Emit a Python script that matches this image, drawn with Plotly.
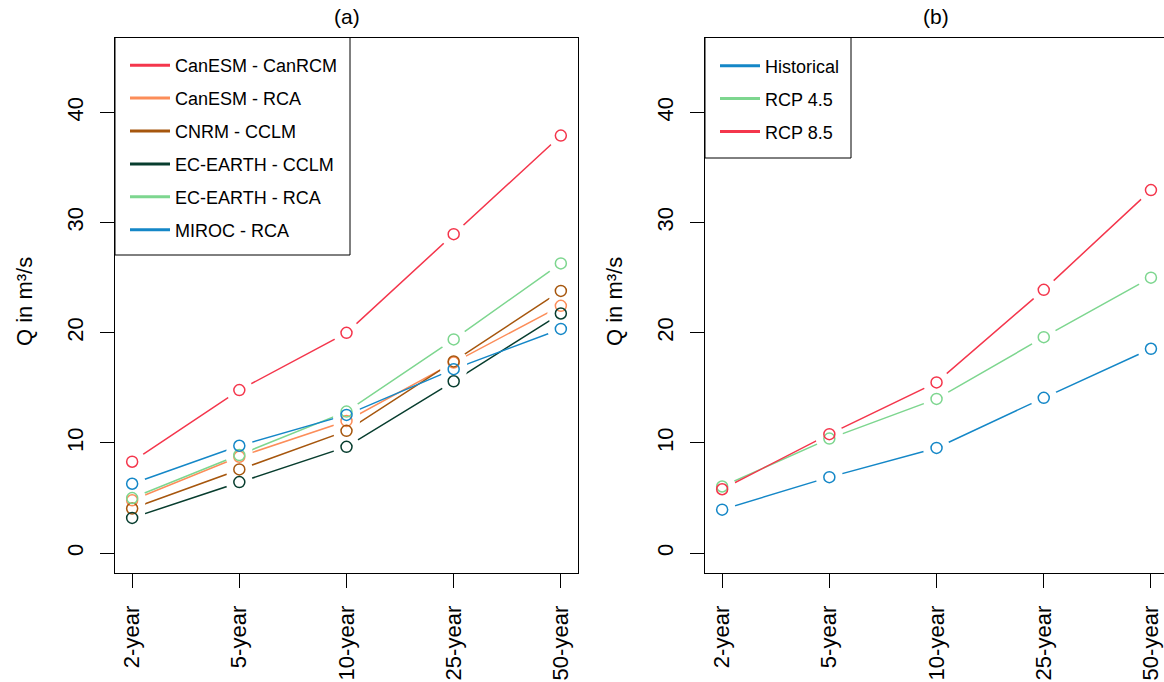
import plotly.graph_objects as go

# ---------------- data ----------------
periods = ["2-year", "5-year", "10-year", "25-year", "50-year"]

models_a = ["CanESM - CanRCM", "CanESM - RCA", "CNRM - CCLM",
            "EC-EARTH - CCLM", "EC-EARTH - RCA", "MIROC - RCA"]
canesm_canrcm = [8.3, 14.8, 20.0, 28.95, 37.9]
canesm_rca = [4.8, 8.75, 12.0, 17.3, 22.45]
cnrm_cclm = [4.05, 7.6, 11.1, 17.4, 23.8]
ecearth_cclm = [3.2, 6.45, 9.65, 15.6, 21.75]
ecearth_rca = [5.0, 8.9, 12.85, 19.4, 26.3]
miroc_rca = [6.3, 9.75, 12.55, 16.7, 20.35]
values_a = [canesm_canrcm, canesm_rca, cnrm_cclm, ecearth_cclm, ecearth_rca, miroc_rca]
colors_a = ["#F4364C", "#FC8D59", "#A6560D", "#073D2E", "#7DD68F", "#1487C7"]

scen_b = ["Historical", "RCP 4.5", "RCP 8.5"]
historical = [3.95, 6.9, 9.55, 14.1, 18.55]
rcp45 = [6.05, 10.4, 14.0, 19.6, 25.0]
rcp85 = [5.8, 10.8, 15.5, 23.9, 32.95]
values_b = [historical, rcp45, rcp85]
colors_b = ["#1487C7", "#7DD68F", "#F4364C"]

yticks = [0, 10, 20, 30, 40]

# ---------------- figure ----------------
W, H = 1164, 682
FONT = "Liberation Sans, Arial, sans-serif"
xpos = list(range(1, len(periods) + 1))

fig = go.Figure()


def add_panel(names, values, colors, xa, ya, legend):
    # lines
    for n, v, c in zip(names, values, colors):
        fig.add_trace(go.Scatter(x=xpos, y=v, mode="lines", xaxis=xa, yaxis=ya,
                                 line=dict(color=c, width=1.5), showlegend=False,
                                 hoverinfo="skip"))
    # white gaps around points (R type="b")
    for n, v, c in zip(names, values, colors):
        fig.add_trace(go.Scatter(x=xpos, y=v, mode="markers", xaxis=xa, yaxis=ya,
                                 marker=dict(symbol="circle", color="#FFFFFF", size=27,
                                             opacity=1,
                                             line=dict(width=0, color="#FFFFFF")),
                                 showlegend=False, hoverinfo="skip"))
    # open circles
    for n, v, c in zip(names, values, colors):
        fig.add_trace(go.Scatter(x=xpos, y=v, mode="markers", xaxis=xa, yaxis=ya,
                                 marker=dict(symbol="circle-open", color=c, size=11,
                                             line=dict(width=1.5, color=c)),
                                 name=n, showlegend=False))
    # legend entries
    for n, c in zip(names, colors):
        fig.add_trace(go.Scatter(x=[None], y=[None], mode="lines", xaxis=xa, yaxis=ya,
                                 line=dict(color=c, width=3), name=n,
                                 legend=legend, legendgroup=n + legend))


add_panel(models_a, values_a, colors_a, "x", "y", "legend")
add_panel(scen_b, values_b, colors_b, "x2", "y2", "legend2")

ytop = 1 - 37.5 / H
ybot = 1 - 573 / H
ax_common = dict(showline=True, linecolor="black", linewidth=1, ticks="outside",
                 ticklen=14, tickwidth=1, tickcolor="black", showgrid=False,
                 zeroline=False, automargin=False,
                 tickfont=dict(family=FONT, size=22, color="black"))

leg_common = dict(xanchor="left", yanchor="top", bgcolor="rgba(0,0,0,0)",
                  borderwidth=0, itemwidth=40, tracegroupgap=6.5,
                  font=dict(family=FONT, size=18, color="black"),
                  itemclick=False, itemdoubleclick=False)

fig.update_layout(
    width=W, height=H, autosize=False, template="none",
    margin=dict(l=0, r=0, t=0, b=0),
    paper_bgcolor="white", plot_bgcolor="white",
    font=dict(family=FONT, color="black"),
    xaxis=dict(domain=[115 / W, 578 / W], range=[0.84, 5.16], tickvals=xpos,
               ticktext=periods, tickangle=-90, mirror=True, anchor="y",
               ticklabelstandoff=9, **ax_common),
    yaxis=dict(domain=[ybot, ytop], range=[-1.8, 46.8], tickvals=yticks,
               tickangle=-90, mirror=True, anchor="x", ticklabelstandoff=8,
               **ax_common),
    xaxis2=dict(domain=[705 / W, 1.0], range=[0.84, 0.84 + 459 / 107.2], tickvals=xpos,
                ticktext=periods, tickangle=-90, mirror=True, anchor="y2",
                ticklabelstandoff=9, **ax_common),
    yaxis2=dict(domain=[ybot, ytop], range=[-1.8, 46.8], tickvals=yticks,
                tickangle=-90, mirror=False, anchor="x2", ticklabelstandoff=8,
                **ax_common),
    legend=dict(x=125 / W, y=1 - 47 / H, **leg_common),
    legend2=dict(x=715 / W, y=1 - 47.5 / H, **leg_common),
    showlegend=True,
)

# legend boxes
fig.add_shape(type="rect", xref="paper", yref="paper", x0=115 / W, x1=350 / W,
              y0=1 - 255 / H, y1=ytop, line=dict(color="black", width=1),
              fillcolor="white", layer="above")
fig.add_shape(type="rect", xref="paper", yref="paper", x0=705 / W, x1=851 / W,
              y0=1 - 158 / H, y1=ytop, line=dict(color="black", width=1),
              fillcolor="white", layer="above")

# panel titles
for txt, xc in [("(a)", 346.5), ("(b)", 936)]:
    fig.add_annotation(text=txt, x=xc / W, y=1 - 17 / H, xref="paper", yref="paper",
                       showarrow=False, font=dict(family=FONT, size=21, color="black"),
                       xanchor="center", yanchor="middle")

# y-axis titles
for xc in [24, 614]:
    fig.add_annotation(text="Q in m³/s", x=xc / W, y=1 - 302 / H, xref="paper",
                       yref="paper", showarrow=False, textangle=-90,
                       font=dict(family=FONT, size=22, color="black"),
                       xanchor="center", yanchor="middle")

fig.write_html("out.html")
